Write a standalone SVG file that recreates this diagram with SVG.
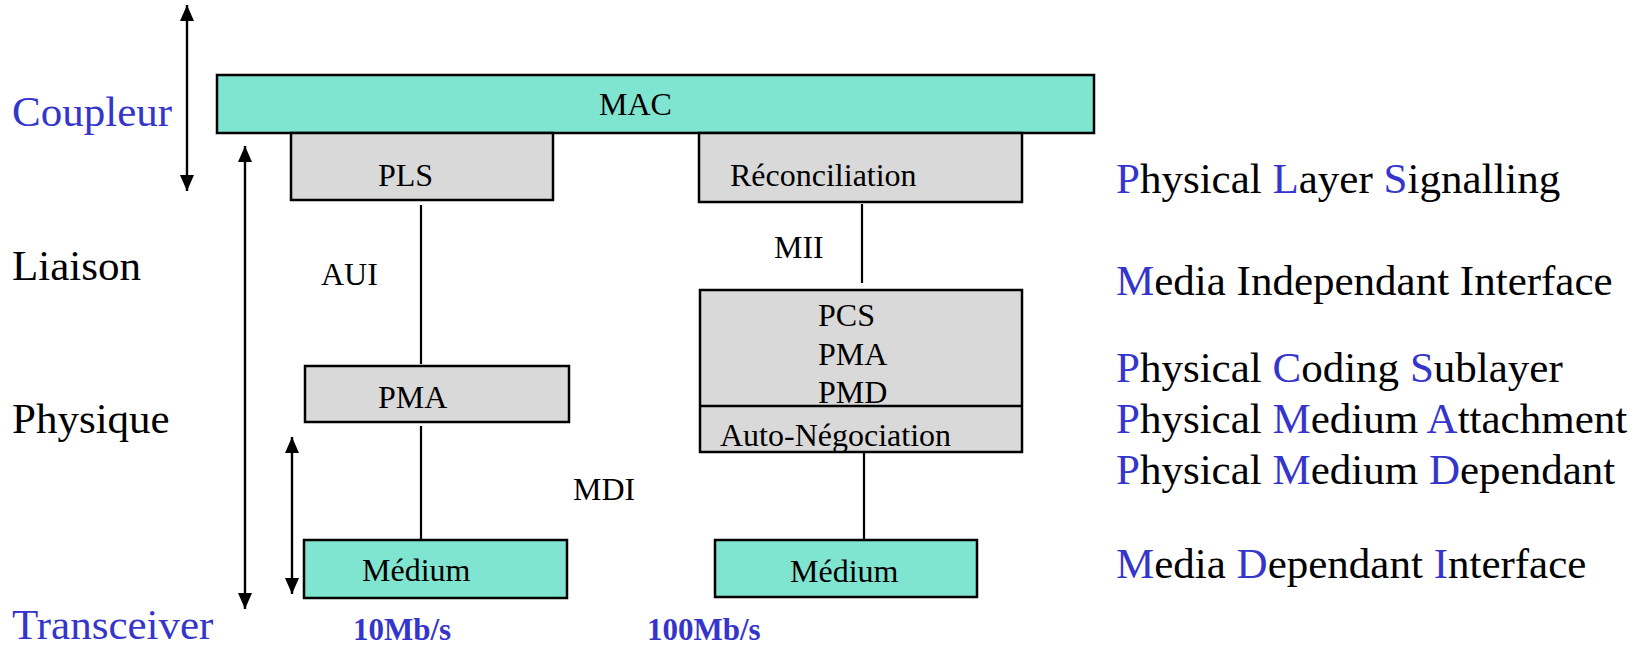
<svg xmlns="http://www.w3.org/2000/svg" width="1639" height="648" viewBox="0 0 1639 648">
<style>
text{font-family:"Liberation Serif","Times New Roman",serif;fill:#000}
.big{font-size:43px}
.box{font-size:32px}
.blue{fill:#3535CC}
.rate{font-size:31px;font-weight:bold;fill:#3535CC}
.teal{fill:#80E5D0;stroke:#000;stroke-width:2.5}
.gray{fill:#D9D9D9;stroke:#000;stroke-width:2.5}
.conn{stroke:#000;stroke-width:2.2;fill:none}
.arr{stroke:#000;stroke-width:2.4;fill:none;marker-start:url(#ah);marker-end:url(#ah)}
</style>
<defs>
<marker id="ah" markerUnits="userSpaceOnUse" markerWidth="16" markerHeight="14" refX="16" refY="7" orient="auto-start-reverse" viewBox="0 0 16 14">
<path d="M0,0 L16,7 L0,14 z" fill="#000"/>
</marker>
</defs>
<rect width="1639" height="648" fill="#fff"/>

<g id="labels-left">
<text class="big blue" x="12" y="126">Coupleur</text>
<text class="big" x="12" y="280">Liaison</text>
<text class="big" x="12" y="433">Physique</text>
<text class="big blue" x="12" y="639">Transceiver</text>
</g>

<g id="connectors">
<line class="arr" x1="187" y1="5" x2="187" y2="191"/>
<line class="arr" x1="245" y1="146" x2="245" y2="609"/>
<line class="arr" x1="292" y1="437" x2="292" y2="594"/>
<line class="conn" x1="421" y1="205" x2="421" y2="364"/>
<line class="conn" x1="421" y1="426" x2="421" y2="540"/>
<line class="conn" x1="862" y1="204" x2="862" y2="283"/>
<line class="conn" x1="864" y1="452" x2="864" y2="540"/>
</g>

<g id="mac">
<rect class="teal" x="217" y="75" width="877" height="58"/>
<text class="box" x="599" y="115">MAC</text>
</g>
<g id="pls">
<rect class="gray" x="291" y="133" width="262" height="67"/>
<text class="box" x="378" y="186">PLS</text>
</g>
<g id="reconciliation">
<rect class="gray" x="699" y="133" width="323" height="69"/>
<text class="box" x="730" y="186">Réconciliation</text>
</g>
<g id="aui"><text class="box" x="321" y="285">AUI</text></g>
<g id="mii"><text class="box" x="774" y="258">MII</text></g>
<g id="mdi"><text class="box" x="573" y="500">MDI</text></g>
<g id="pma-left">
<rect class="gray" x="305" y="366" width="264" height="56"/>
<text class="box" x="378" y="408">PMA</text>
</g>
<g id="pcs-pma-pmd">
<rect class="gray" x="700" y="290" width="322" height="162"/>
<line stroke="#000" stroke-width="2.5" x1="700" y1="406" x2="1022" y2="406"/>
<text class="box" x="818" y="326">PCS</text>
<text class="box" x="818" y="365">PMA</text>
<text class="box" x="818" y="403">PMD</text>
<text class="box" x="720" y="446">Auto-Négociation</text>
</g>
<g id="medium-left">
<rect class="teal" x="304" y="540" width="263" height="58"/>
<text class="box" x="362" y="581">Médium</text>
</g>
<g id="medium-right">
<rect class="teal" x="715" y="540" width="262" height="57"/>
<text class="box" x="790" y="582">Médium</text>
</g>
<g id="rates">
<text class="rate" x="353" y="640">10Mb/s</text>
<text class="rate" x="647" y="640">100Mb/s</text>
</g>

<g id="legend">
<text class="big" x="1116" y="193"><tspan class="blue">P</tspan>hysical <tspan class="blue">L</tspan>ayer <tspan class="blue">S</tspan>ignalling</text>
<text class="big" x="1116" y="295"><tspan class="blue">M</tspan>edia Independant Interface</text>
<text class="big" x="1116" y="382"><tspan class="blue">P</tspan>hysical <tspan class="blue">C</tspan>oding <tspan class="blue">S</tspan>ublayer</text>
<text class="big" x="1116" y="433"><tspan class="blue">P</tspan>hysical <tspan class="blue">M</tspan>edium <tspan class="blue">A</tspan>ttachment</text>
<text class="big" x="1116" y="484"><tspan class="blue">P</tspan>hysical <tspan class="blue">M</tspan>edium <tspan class="blue">D</tspan>ependant</text>
<text class="big" x="1116" y="578"><tspan class="blue">M</tspan>edia <tspan class="blue">D</tspan>ependant <tspan class="blue">I</tspan>nterface</text>
</g>
</svg>
